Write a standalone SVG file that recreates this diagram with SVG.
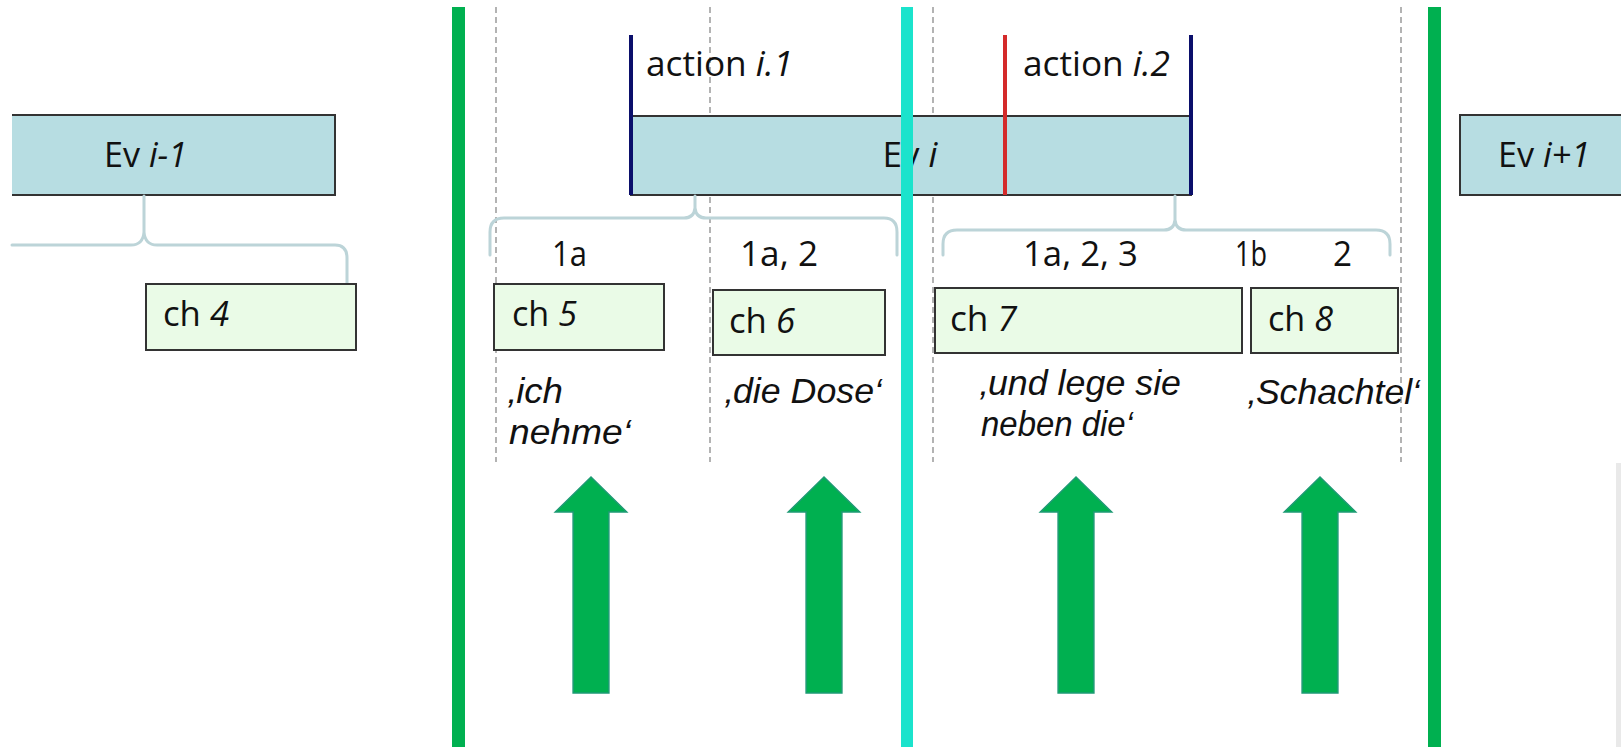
<svg xmlns="http://www.w3.org/2000/svg" width="1621" height="747" viewBox="0 0 1621 747">
  <style>
    .ev { fill: #B7DDE2; stroke: #333333; stroke-width: 2; }
    .ev-fill { fill: #B7DDE2; }
    .edge { fill: none; stroke: #333333; stroke-width: 2; }
    .ch { fill: #EAFBE7; stroke: #333333; stroke-width: 2; }
    .lbl { font-family: "Open Sans", Lato, "Liberation Sans", sans-serif; font-size: 35px; fill: #111111; }
    .utt { font-family: "Liberation Sans", Arial, sans-serif; font-size: 35px; font-style: italic; fill: #111111; }
    .it { font-style: italic; }
    .brace { fill: none; stroke: #BCD4D8; stroke-width: 3; stroke-linecap: round; stroke-linejoin: round; }
    .guide { stroke: #9A9A9A; stroke-width: 1.5; stroke-dasharray: 6 4; }
    .bound-green { fill: #00B050; }
    .bound-cyan { fill: #1BE3CC; }
    .tick-navy { stroke: #0B0F6B; stroke-width: 4; }
    .tick-red { stroke: #D42A2A; stroke-width: 4; }
    .arrow { fill: #00B050; stroke: #1E9A74; stroke-width: 1.5; stroke-linejoin: miter; }
  </style>
  <defs>
    <!-- block arrow pointing up, tip at origin -->
    <path id="up-arrow" d="M0,0 L35.7,35 L17.9,35 L17.9,216 L-17.9,216 L-17.9,35 L-35.7,35 Z"/>
  </defs>

  <rect x="0" y="0" width="1621" height="747" fill="#FFFFFF"/>

  <!-- dashed time guides -->
  <g id="guides">
    <line class="guide" x1="496" y1="7" x2="496" y2="462"/>
    <line class="guide" x1="710" y1="7" x2="710" y2="462"/>
    <line class="guide" x1="933" y1="7" x2="933" y2="462"/>
    <line class="guide" x1="1401" y1="7" x2="1401" y2="462"/>
  </g>

  <!-- previous event -->
  <g id="ev-prev">
    <rect class="ev-fill" x="12" y="115" width="323" height="80"/>
    <path class="edge" d="M12,115 H335 V195 H12"/>
    <text class="lbl" x="104" y="167" textLength="83" lengthAdjust="spacingAndGlyphs">Ev <tspan class="it">i-1</tspan></text>
  </g>

  <!-- current event with its two actions -->
  <g id="ev-cur">
    <rect class="ev" x="631" y="116" width="560" height="79"/>
    <text class="lbl" x="910" y="167" font-size="33" text-anchor="middle">Ev <tspan class="it">i</tspan></text>
  </g>
  <g id="action-1">
    <line class="tick-navy" x1="631" y1="35" x2="631" y2="195"/>
    <text class="lbl" x="646" y="76" textLength="147" lengthAdjust="spacingAndGlyphs">action <tspan class="it">i.1</tspan></text>
  </g>
  <g id="action-2">
    <line class="tick-red" x1="1005" y1="35" x2="1005" y2="195"/>
    <line class="tick-navy" x1="1191" y1="35" x2="1191" y2="195"/>
    <text class="lbl" x="1023" y="76" textLength="147" lengthAdjust="spacingAndGlyphs">action <tspan class="it">i.2</tspan></text>
  </g>

  <!-- next event -->
  <g id="ev-next">
    <rect class="ev-fill" x="1460" y="115" width="161" height="80"/>
    <path class="edge" d="M1623,115 H1460 V195 H1623"/>
    <text class="lbl" x="1498" y="167" textLength="92" lengthAdjust="spacingAndGlyphs">Ev <tspan class="it">i+1</tspan></text>
  </g>

  <!-- braces linking events/actions to chunks -->
  <g id="connectors">
    <path class="brace" d="M12,245 H131 Q143,245 144,232 V196 M144,232 Q145,245 157,245 H335 Q347,245 347,258 V283"/>
    <path class="brace" d="M490,255 V232 Q490,218 504,218 H684 Q694,218 695,208 V196 M695,208 Q696,218 706,218 H884 Q897,218 897,232 V255"/>
    <path class="brace" d="M943,255 V244 Q943,230 957,230 H1164 Q1174,230 1175,220 V196 M1175,220 Q1176,230 1186,230 H1376 Q1390,230 1390,244 V255"/>
  </g>

  <!-- feature codes -->
  <g id="codes">
    <text class="lbl" x="552" y="266" textLength="35" lengthAdjust="spacingAndGlyphs">1a</text>
    <text class="lbl" x="740" y="266" textLength="78" lengthAdjust="spacingAndGlyphs">1a, 2</text>
    <text class="lbl" x="1023" y="266" textLength="115" lengthAdjust="spacingAndGlyphs">1a, 2, 3</text>
    <text class="lbl" x="1235" y="266" textLength="32" lengthAdjust="spacingAndGlyphs">1b</text>
    <text class="lbl" x="1333" y="266" textLength="19" lengthAdjust="spacingAndGlyphs">2</text>
  </g>

  <!-- chunks -->
  <g id="ch4">
    <rect class="ch" x="146" y="284" width="210" height="66"/>
    <text class="lbl" x="163" y="326" textLength="66" lengthAdjust="spacingAndGlyphs">ch <tspan class="it">4</tspan></text>
  </g>
  <g id="ch5">
    <rect class="ch" x="494" y="284" width="170" height="66"/>
    <text class="lbl" x="512" y="326" textLength="65" lengthAdjust="spacingAndGlyphs">ch <tspan class="it">5</tspan></text>
  </g>
  <g id="ch6">
    <rect class="ch" x="713" y="290" width="172" height="65"/>
    <text class="lbl" x="729" y="333" textLength="66" lengthAdjust="spacingAndGlyphs">ch <tspan class="it">6</tspan></text>
  </g>
  <g id="ch7">
    <rect class="ch" x="935" y="288" width="307" height="65"/>
    <text class="lbl" x="950" y="331" textLength="67" lengthAdjust="spacingAndGlyphs">ch <tspan class="it">7</tspan></text>
  </g>
  <g id="ch8">
    <rect class="ch" x="1251" y="288" width="147" height="65"/>
    <text class="lbl" x="1268" y="331" textLength="65" lengthAdjust="spacingAndGlyphs">ch <tspan class="it">8</tspan></text>
  </g>

  <!-- utterance fragments -->
  <g id="utterances">
    <text class="utt" x="508" y="403" textLength="55" lengthAdjust="spacingAndGlyphs">‚ich</text>
    <text class="utt" x="509" y="444" textLength="122" lengthAdjust="spacingAndGlyphs">nehme‘</text>
    <text class="utt" x="725" y="403" textLength="157" lengthAdjust="spacingAndGlyphs">‚die Dose‘</text>
    <text class="utt" x="980" y="395" textLength="201" lengthAdjust="spacingAndGlyphs">‚und lege sie</text>
    <text class="utt" x="981" y="436" textLength="152" lengthAdjust="spacingAndGlyphs">neben die‘</text>
    <text class="utt" x="1248" y="404" textLength="172" lengthAdjust="spacingAndGlyphs">‚Schachtel‘</text>
  </g>

  <!-- event / action boundaries -->
  <g id="boundaries">
    <rect class="bound-green" x="452" y="7" width="13" height="740"/>
    <rect class="bound-cyan" x="901" y="7" width="12" height="740"/>
    <rect class="bound-green" x="1428" y="7" width="13" height="740"/>
  </g>

  <!-- upward block arrows -->
  <g id="arrows">
    <use href="#up-arrow" class="arrow" x="591" y="477"/>
    <use href="#up-arrow" class="arrow" x="824" y="477"/>
    <use href="#up-arrow" class="arrow" x="1076" y="477"/>
    <use href="#up-arrow" class="arrow" x="1320" y="477"/>
  </g>

  <!-- page edge shading -->
  <rect x="1616" y="463" width="5" height="284" fill="#E9E9E9"/>
</svg>
